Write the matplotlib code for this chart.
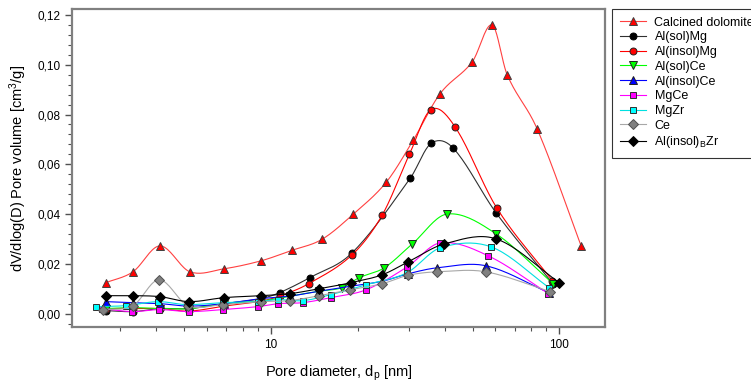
import numpy as np
import matplotlib
matplotlib.use("Agg")
import matplotlib.pyplot as plt
from matplotlib.ticker import FuncFormatter, LogLocator, MultipleLocator, NullFormatter

plt.rcParams['font.family'] = ['Liberation Sans', 'DejaVu Sans']
plt.rcParams['mathtext.fontset'] = 'custom'
plt.rcParams['mathtext.rm'] = 'Liberation Sans'
plt.rcParams['mathtext.it'] = 'Liberation Sans:italic'

# pore diameter [nm] / dV/dlog(D) [cm3/g]
calc_x = [2.67, 3.32, 4.12, 5.23, 6.87, 9.23, 11.8, 15.0, 19.3, 25.1, 31.1, 38.6, 49.9, 58.5, 65.9, 83.9, 119]
calc_y = [0.0124, 0.0168, 0.0272, 0.0168, 0.0180, 0.0212, 0.0254, 0.0298, 0.0400, 0.0528, 0.0696, 0.0884, 0.1012, 0.1160, 0.0960, 0.0740, 0.0272]

solmg_x = [2.67, 3.32, 4.12, 5.2, 6.87, 9.2, 10.7, 13.6, 19.1, 30.4, 35.9, 42.9, 60.4, 95.0]
solmg_y = [0.0012, 0.0008, 0.0020, 0.0020, 0.0040, 0.0060, 0.0084, 0.0144, 0.0244, 0.0544, 0.0684, 0.0664, 0.0404, 0.0120]

insolmg_x = [2.67, 3.32, 4.12, 5.2, 6.87, 9.2, 10.7, 13.5, 19.1, 24.3, 30.2, 35.9, 43.6, 60.7, 94.6]
insolmg_y = [0.0020, 0.0020, 0.0020, 0.0010, 0.0030, 0.0050, 0.0070, 0.0120, 0.0236, 0.0396, 0.0640, 0.0820, 0.0748, 0.0424, 0.0132]

solce_x = [2.67, 3.32, 4.12, 5.2, 6.87, 9.2, 11.6, 14.7, 17.6, 20.2, 24.7, 30.9, 40.8, 60.4, 95.0]
solce_y = [0.0020, 0.0024, 0.0020, 0.0020, 0.0040, 0.0050, 0.0070, 0.0090, 0.0104, 0.0144, 0.0184, 0.0280, 0.0400, 0.0320, 0.0120]

insolce_x = [2.67, 3.32, 4.12, 5.2, 6.87, 9.2, 11.6, 14.7, 18.9, 24.3, 29.9, 37.7, 55.7, 92.0]
insolce_y = [0.0048, 0.0044, 0.0040, 0.0030, 0.0040, 0.0060, 0.0070, 0.0090, 0.0110, 0.0130, 0.0160, 0.0184, 0.0192, 0.0084]

mgce_x = [2.6, 3.3, 4.1, 5.2, 6.8, 9.0, 10.6, 12.9, 16.1, 21.4, 29.7, 38.6, 56.7, 91.6]
mgce_y = [0.0020, 0.0008, 0.0016, 0.0008, 0.0016, 0.0028, 0.0040, 0.0044, 0.0064, 0.0096, 0.0188, 0.0284, 0.0232, 0.0080]

mgzr_x = [2.47, 3.14, 4.05, 5.1, 6.8, 9.0, 10.6, 12.9, 16.1, 21.4, 29.6, 38.6, 58.0, 92.2]
mgzr_y = [0.0028, 0.0032, 0.0048, 0.0036, 0.0044, 0.0048, 0.0056, 0.0052, 0.0076, 0.0116, 0.0164, 0.0264, 0.0268, 0.0104]

ce_x = [2.61, 3.32, 4.09, 5.15, 6.8, 9.2, 11.6, 14.7, 18.8, 24.3, 29.9, 37.7, 55.5, 93.0]
ce_y = [0.0016, 0.0032, 0.0136, 0.0032, 0.0036, 0.0048, 0.0052, 0.0072, 0.0096, 0.0120, 0.0154, 0.0168, 0.0168, 0.0088]

bzr_x = [2.67, 3.32, 4.12, 5.2, 6.87, 9.2, 11.6, 14.7, 18.9, 24.3, 29.9, 39.9, 60.4, 100.0]
bzr_y = [0.0072, 0.0072, 0.0068, 0.0048, 0.0064, 0.0072, 0.0080, 0.0100, 0.0124, 0.0156, 0.0208, 0.0280, 0.0300, 0.0124]

series = [
    ("Calcined dolomite", calc_x, calc_y, "#ff4040", "^", "#ff0000", "#404040"),
    ("Al(sol)Mg", solmg_x, solmg_y, "#303030", "o", "#000000", "#000000"),
    ("Al(insol)Mg", insolmg_x, insolmg_y, "#ff0000", "o", "#ff0000", "#202020"),
    ("Al(sol)Ce", solce_x, solce_y, "#00ff00", "v", "#00ff00", "#202020"),
    ("Al(insol)Ce", insolce_x, insolce_y, "#0000ff", "^", "#0000ff", "#202020"),
    ("MgCe", mgce_x, mgce_y, "#ff00ff", "s", "#ff00ff", "#303030"),
    ("MgZr", mgzr_x, mgzr_y, "#00e0e0", "s", "#00ffff", "#303030"),
    ("Ce", ce_x, ce_y, "#a8a8a8", "D", "#808080", "#505050"),
    ("Al(insol)$_\\mathrm{B}$Zr", bzr_x, bzr_y, "#000000", "D", "#000000", "#000000"),
]


def smooth(x, y, n=20):
    # cubic Hermite curve through the points, in log-x space
    lx = np.log10(x)
    y = np.asarray(y, float)
    m = np.gradient(y, lx)
    m[1:-1] = (y[2:] - y[:-2]) / (lx[2:] - lx[:-2])
    xs, ys = [], []
    for i in range(len(lx) - 1):
        h = lx[i + 1] - lx[i]
        t = np.linspace(0, 1, n, endpoint=False)
        h00 = 2 * t**3 - 3 * t**2 + 1
        h10 = t**3 - 2 * t**2 + t
        h01 = -2 * t**3 + 3 * t**2
        h11 = t**3 - t**2
        xs.append(lx[i] + t * h)
        ys.append(h00 * y[i] + h10 * h * m[i] + h01 * y[i + 1] + h11 * h * m[i + 1])
    xs.append([lx[-1]])
    ys.append([y[-1]])
    return 10 ** np.concatenate(xs), np.concatenate(ys)


fig = plt.figure(figsize=(7.51, 3.86), dpi=100)
ax = fig.add_axes([0.0959, 0.1528, 0.7097, 0.8239])

handles = []
for label, x, y, lc, mk, fc, ec in series:
    ms = 5.0 if mk in ("o", "s") else 5.6
    sx, sy = smooth(x, y)
    ax.plot(sx, sy, color=lc, lw=0.8)
    ax.plot(x, y, ls="none", marker=mk, ms=ms, mfc=fc, mec=ec, mew=0.7)
    h, = ax.plot([], [], color=lc, lw=0.8, marker=mk, ms=ms, mfc=fc, mec=ec, mew=0.7, label=label)
    handles.append(h)

ax.set_xscale("log")
ax.set_xlim(2.04, 144)
ax.set_ylim(-0.0054, 0.1224)
ax.xaxis.set_major_locator(LogLocator(base=10))
ax.xaxis.set_minor_locator(LogLocator(base=10, subs=np.arange(2, 10)))
ax.xaxis.set_major_formatter(FuncFormatter(lambda v, p: "%d" % v))
ax.xaxis.set_minor_formatter(NullFormatter())
ax.yaxis.set_major_locator(MultipleLocator(0.02))
ax.yaxis.set_minor_locator(MultipleLocator(0.004))
ax.yaxis.set_major_formatter(FuncFormatter(lambda v, p: ("%.2f" % v).replace(".", ",")))

for s in ax.spines.values():
    s.set_color("#808080")
    s.set_linewidth(1.6)
ax.tick_params(which="both", direction="out", color="#505050", labelsize=8.5)
ax.tick_params(which="major", length=5, width=1)
ax.tick_params(which="minor", length=3, width=0.8)

ax.set_xlabel("Pore diameter, d$_\\mathrm{p}$ [nm]", fontsize=10.5, labelpad=9)
ax.set_ylabel("dV/dlog(D) Pore volume [cm$^3$/g]", fontsize=10.5, labelpad=6)

# the reference legend runs past the right edge of the image
leg = fig.legend(handles=handles, loc="upper left", bbox_to_anchor=(612 / 751, 1 - 9 / 386),
                 fontsize=9, frameon=True, fancybox=False, borderaxespad=0,
                 handlelength=2.1, labelspacing=0.22, borderpad=0.6, handletextpad=0.7)
leg.get_frame().set_edgecolor("#000000")
leg.get_frame().set_linewidth(0.8)

fig.savefig("out.png", dpi=100)
